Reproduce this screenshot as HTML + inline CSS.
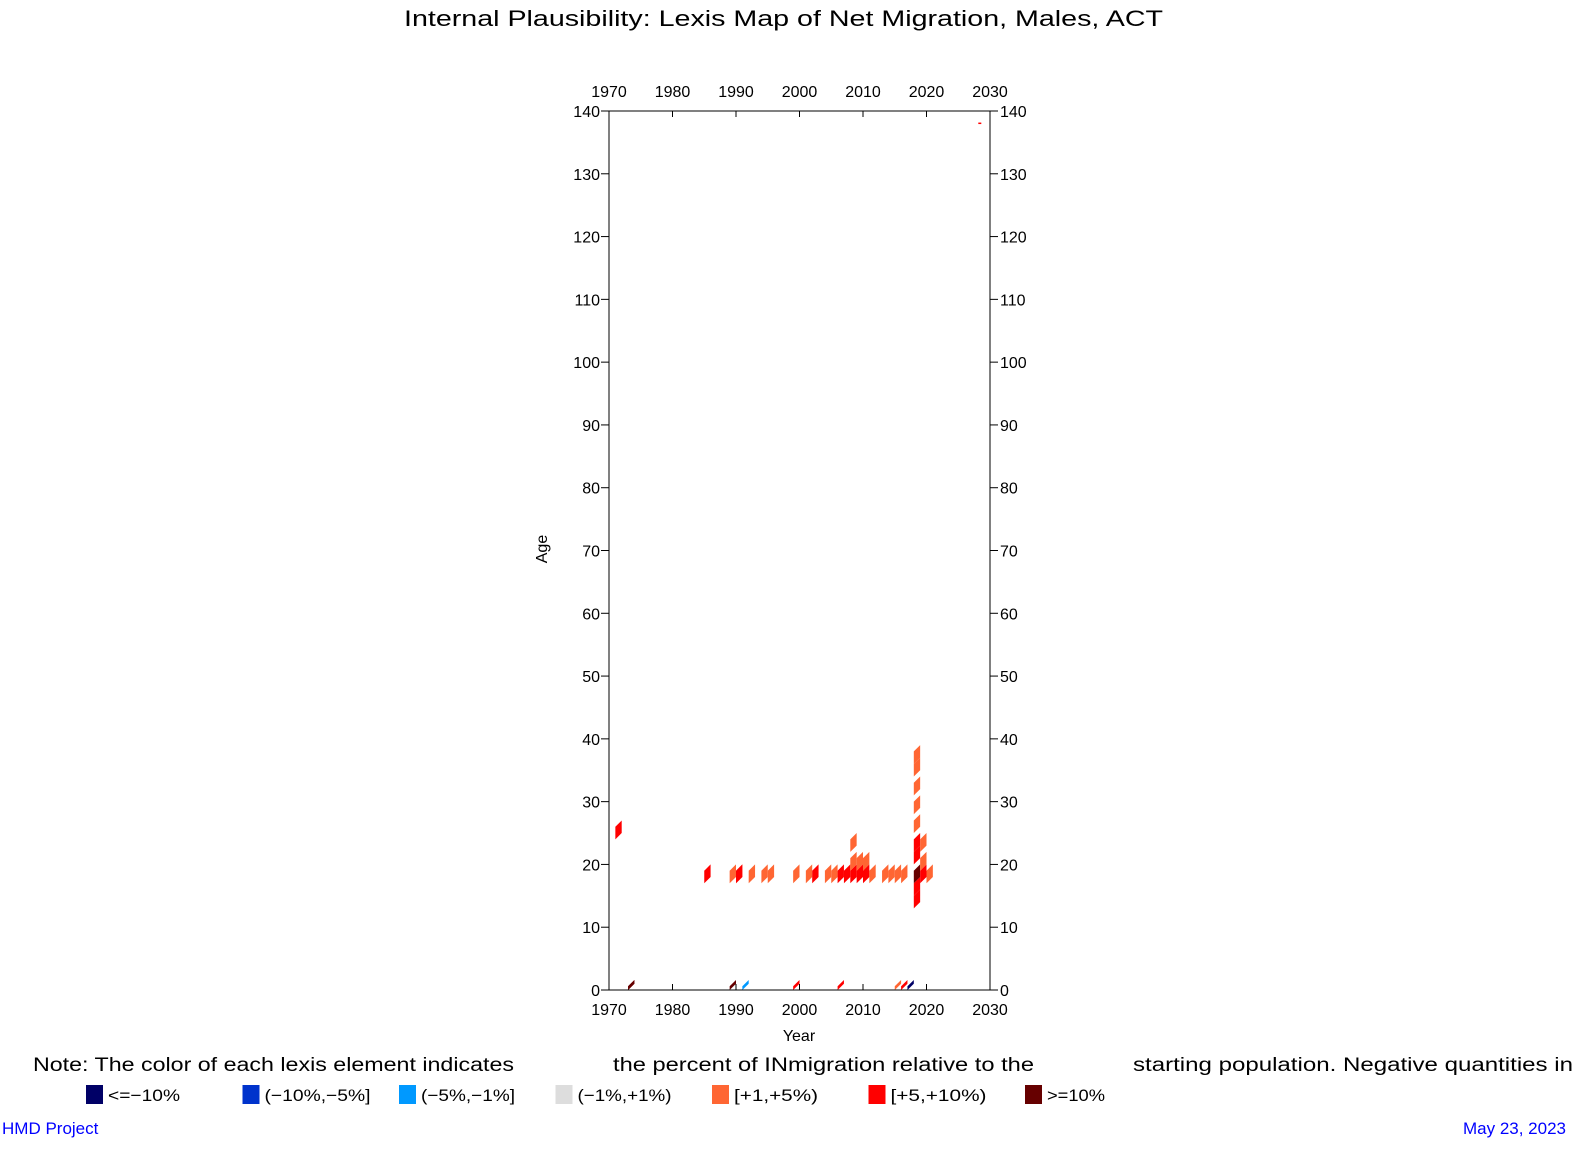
<!DOCTYPE html>
<html><head><meta charset="utf-8"><style>
body{margin:0;background:#fff;font-family:"Liberation Sans",sans-serif;}
svg text{font-family:"Liberation Sans",sans-serif;}
</style></head><body>
<svg width="1584" height="1152" xmlns="http://www.w3.org/2000/svg">
<text x="404" y="26" font-size="22" textLength="759" lengthAdjust="spacingAndGlyphs">Internal Plausibility: Lexis Map of Net Migration, Males, ACT</text>
<g id="cells"></g>
<rect x="609" y="111" width="381" height="879" fill="none" stroke="#000" stroke-width="1"/>
<g id="axes" font-size="16"></g>
<text x="799" y="1041" font-size="16" text-anchor="middle">Year</text>
<text x="547" y="549" font-size="16" text-anchor="middle" transform="rotate(-90 547 549)">Age</text>
<g font-size="19" fill="#000">
<text x="33" y="1071" textLength="481" lengthAdjust="spacingAndGlyphs">Note: The color of each lexis element indicates</text>
<text x="613" y="1071" textLength="421" lengthAdjust="spacingAndGlyphs">the percent of INmigration relative to the</text>
<text x="1133" y="1071" textLength="440" lengthAdjust="spacingAndGlyphs">starting population.  Negative quantities in</text>
</g>
<g id="legend" font-size="17"></g>
<text x="2" y="1134" font-size="17" fill="#0000ff">HMD Project</text>
<text x="1566" y="1134" font-size="17" fill="#0000ff" text-anchor="end">May 23, 2023</text>
</svg>
<script>
const xTicks=[1970,1980,1990,2000,2010,2020,2030];
const yTicks=[0,10,20,30,40,50,60,70,80,90,100,110,120,130,140];
const categories=["<=−10%","(−10%,−5%]","(−5%,−1%]","(−1%,+1%)","[+1,+5%)","[+5,+10%)",">=10%"];
const legendWidths=[72,106,94,94,84,96,58];
const catColors=["#000066","#0033cc","#0099ff","#dddddd","#ff6633","#ff0000","#660000"];
const cellYears=[1971,1973,1985,1989,1990,1990,1992,1994,1995,1999,2001,2002,2004,2005,2006,2007,2008,2009,2008,2009,2010,2010,2011,2013,2014,2015,2016,2018,2018,2018,2018,2018,2018,2018,2018,2018,2018,2019,2019,2020,2019,2008,1973,1989,1991,1999,2006,2015,2016,2017,2028];
const cellAges=[24,0,17,17,17,17,17,17,17,17,17,17,17,17,17,17,17,17,19,19,19,17,17,17,17,17,17,13,15,20,22,17,25,28,31,34,36,17,19,17,22,22,0,0,0,0,0,0,0,0,138];
const cellCats=[5,6,5,4,4,5,4,4,4,4,4,5,4,4,5,5,5,5,4,4,4,5,4,4,4,4,4,5,5,5,5,6,4,4,4,4,4,5,4,4,4,4,6,6,2,5,5,4,5,0,5];
const X0=609,X1=990,Y0=990,Y1=111;
const xs=y=>X0+(y-1970)*(X1-X0)/60;
const ys=a=>Y0-a*(Y0-Y1)/140;
const NS="http://www.w3.org/2000/svg";
const ax=document.getElementById('axes');
function mk(tag,attrs,parent){const e=document.createElementNS(NS,tag);for(const k in attrs)e.setAttribute(k,attrs[k]);parent.appendChild(e);return e;}
xTicks.forEach(t=>{
 const x=xs(t);
 let l=mk('line',{x1:x,x2:x,y1:Y0,y2:Y0-6,stroke:'#000'},ax);
 
 
 l=mk('line',{x1:x,x2:x,y1:Y1,y2:Y1+6,stroke:'#000'},ax);
 
 
 let tx=mk('text',{x:x,y:Y0+25,'text-anchor':'middle'},ax);tx.textContent=t;
 
 
 tx=mk('text',{x:x,y:Y1-14,'text-anchor':'middle'},ax);tx.textContent=t;
 
 
});
yTicks.forEach(t=>{
 const y=ys(t);
 let l=mk('line',{x1:X0-8,x2:X0,y1:y,y2:y,stroke:'#000'},ax);
 
 
 l=mk('line',{x1:X1,x2:X1+8,y1:y,y2:y,stroke:'#000'},ax);
 
 
 let tx=mk('text',{x:X0-9,y:y+6,'text-anchor':'end'},ax);tx.textContent=t;
 
 
 tx=mk('text',{x:X1+10,y:y+6},ax);tx.textContent=t;
 
 
});
const cg=document.getElementById('cells');
cellYears.forEach((yr,i)=>{
 const a=cellAges[i];
 if(a>=130){
  const r=mk('rect',{x:xs(yr)+1,y:ys(a)-1,width:3,height:1.5,fill:catColors[cellCats[i]]},cg);
  
  
  return;
 }
 const h=a===0?0.6:2;
 const x0=xs(yr),x1=xs(yr+1);
 const pts=[[x0,ys(a)],[x1,ys(a+1)],[x1,ys(a+1+h)],[x0,ys(a+h)]];
 const p=mk('polygon',{points:pts.map(q=>q.join(',')).join(' '),fill:catColors[cellCats[i]]},cg);
 
 
});
const lg=document.getElementById('legend');
categories.forEach((c,i)=>{
 const x=86+i*156.5;
 const r=mk('rect',{x:x,y:1085,width:17,height:19,fill:catColors[i]},lg);
 
 
 const t=mk('text',{x:x+22,y:1101,textLength:legendWidths[i],lengthAdjust:'spacingAndGlyphs'},lg);t.textContent=c;
 
 
});
</script>
</body></html>
